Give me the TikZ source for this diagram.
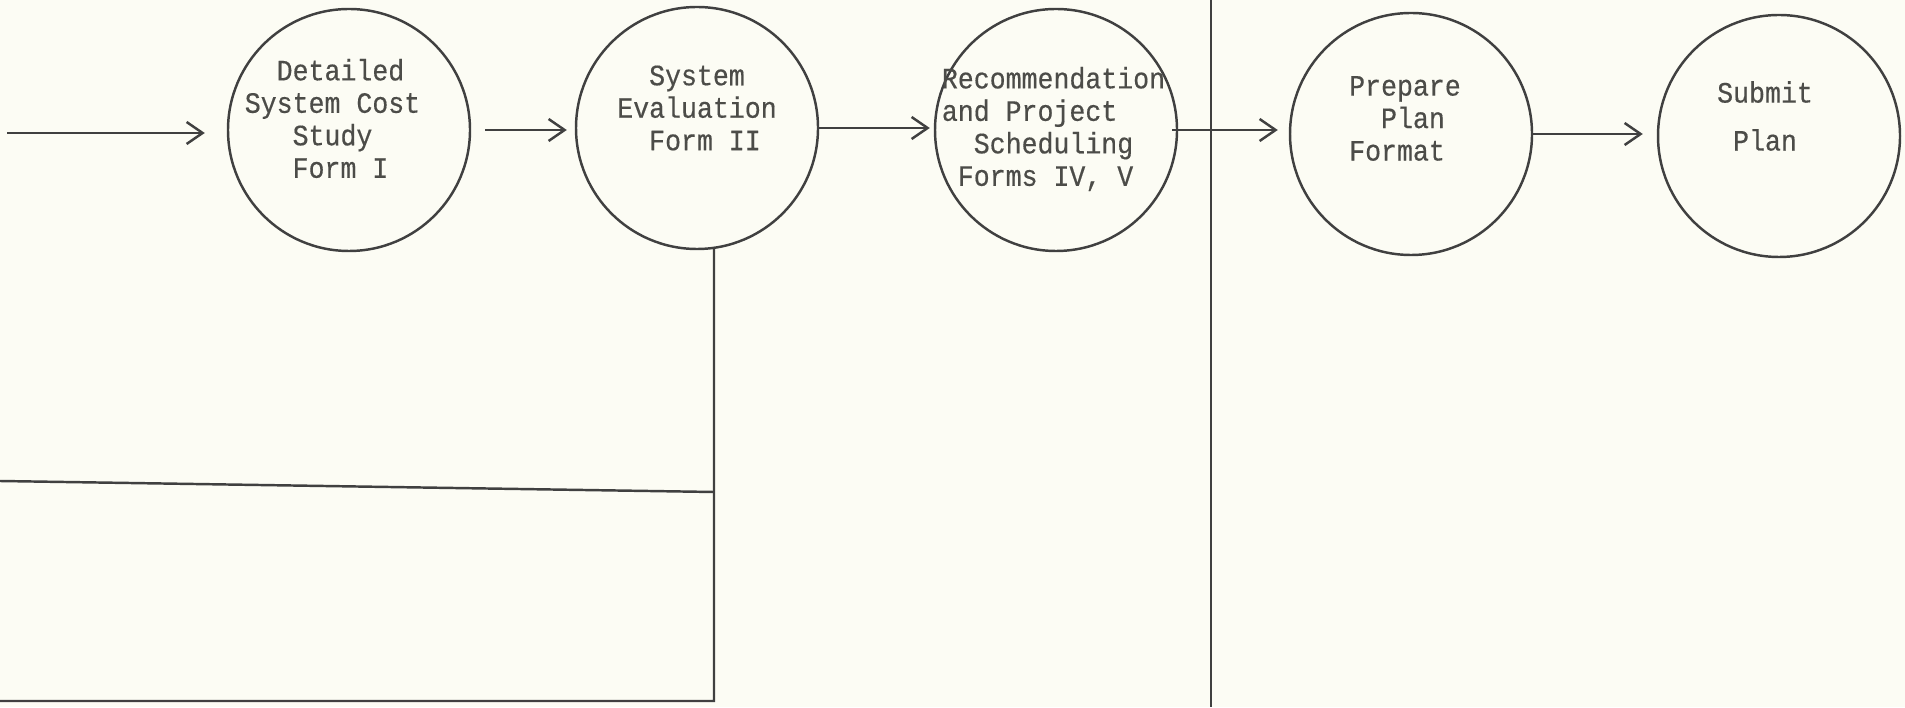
\documentclass[tikz,border=0pt]{standalone}
\usepackage{fontspec}
\setmonofont[FakeStretch=0.9,FakeBold=0.4]{Liberation Mono}
\usetikzlibrary{arrows.meta}
\definecolor{paper}{HTML}{FCFCF4}
\definecolor{ink}{HTML}{404040}
\definecolor{typeink}{HTML}{4C4C48}
\begin{document}
\begin{tikzpicture}[x=1cm,y=1cm,
  stage/.style={draw=ink, line width=0.7pt, circle, minimum size=2.42cm, inner sep=0pt},
  stagetext/.style={text=typeink, font=\ttfamily\fontsize{8.4}{9.24}\selectfont, align=left, inner sep=0pt},
  flow/.style={draw=ink, line width=0.7pt, -{Straight Barb[length=1.6mm,width=2.2mm]}},
  divider/.style={draw=ink, line width=0.7pt}]
\fill[paper] (0,0) rectangle (19.05,7.07);
\useasboundingbox (0,0) rectangle (19.05,7.07);
% stages
\node[stage] (c1) at (3.49,5.77) {};
\node[stage] (c2) at (6.97,5.79) {};
\node[stage] (c3) at (10.56,5.77) {};
\node[stage] (c4) at (14.11,5.73) {};
\node[stage] (c5) at (17.79,5.71) {};
\node[stagetext] (t1) at ([xshift=-0.165cm,yshift=0.115cm]c1.center) {\hphantom{xx}Detailed\\System Cost\\\hphantom{xxx}Study\\\hphantom{xxx}Form I};
\node[stagetext] (t2) at ([yshift=0.2cm]c2.center) {\hphantom{xx}System\\Evaluation\\\hphantom{xx}Form II};
\node[stagetext] (t3) at ([xshift=-0.025cm,yshift=0.01cm]c3.center) {Recommendation\\and Project\\\hphantom{xx}Scheduling\\\hphantom{x}Forms IV, V};
\node[stagetext] (t4) at ([xshift=-0.06cm,yshift=0.155cm]c4.center) {Prepare\\\hphantom{xx}Plan\\Format};
\node[stagetext, align=center] (t5) at ([xshift=-0.14cm,yshift=0.2cm]c5.center) {Submit\\[4.4pt]Plan};
% flow between stages
\coordinate (in) at (0.07,5.74);
\draw[flow, shorten >=2.2mm] (in) -- (in -| c1.west);
\draw[flow, shorten <=1.4mm, shorten >=0.8mm] (c1.east) -- (c1.east -| c2.west);
\draw[flow, shorten >=0.4mm] (c2.east) -- (c2.east -| c3.west);
\draw[flow, shorten <=-0.6mm, shorten >=1.1mm] (c3.east) -- (c3.east -| c4.west);
\draw[flow, shorten >=1.4mm] (c4.east) -- (c4.east -| c5.west);
% divider and lower boxes
\coordinate (top) at (12.11,7.07);
\coordinate (bot) at (12.11,0);
\draw[divider] (top) -- (bot);
\coordinate (ml) at (0,2.26);
\coordinate (mr) at (7.14,2.15);
\coordinate (bl) at (0,0.06);
\coordinate (br) at (7.14,0.06);
\draw[divider] (c2.-82) -- (br) -- (bl);
\draw[divider] (ml) -- (mr);
\end{tikzpicture}
\end{document}
